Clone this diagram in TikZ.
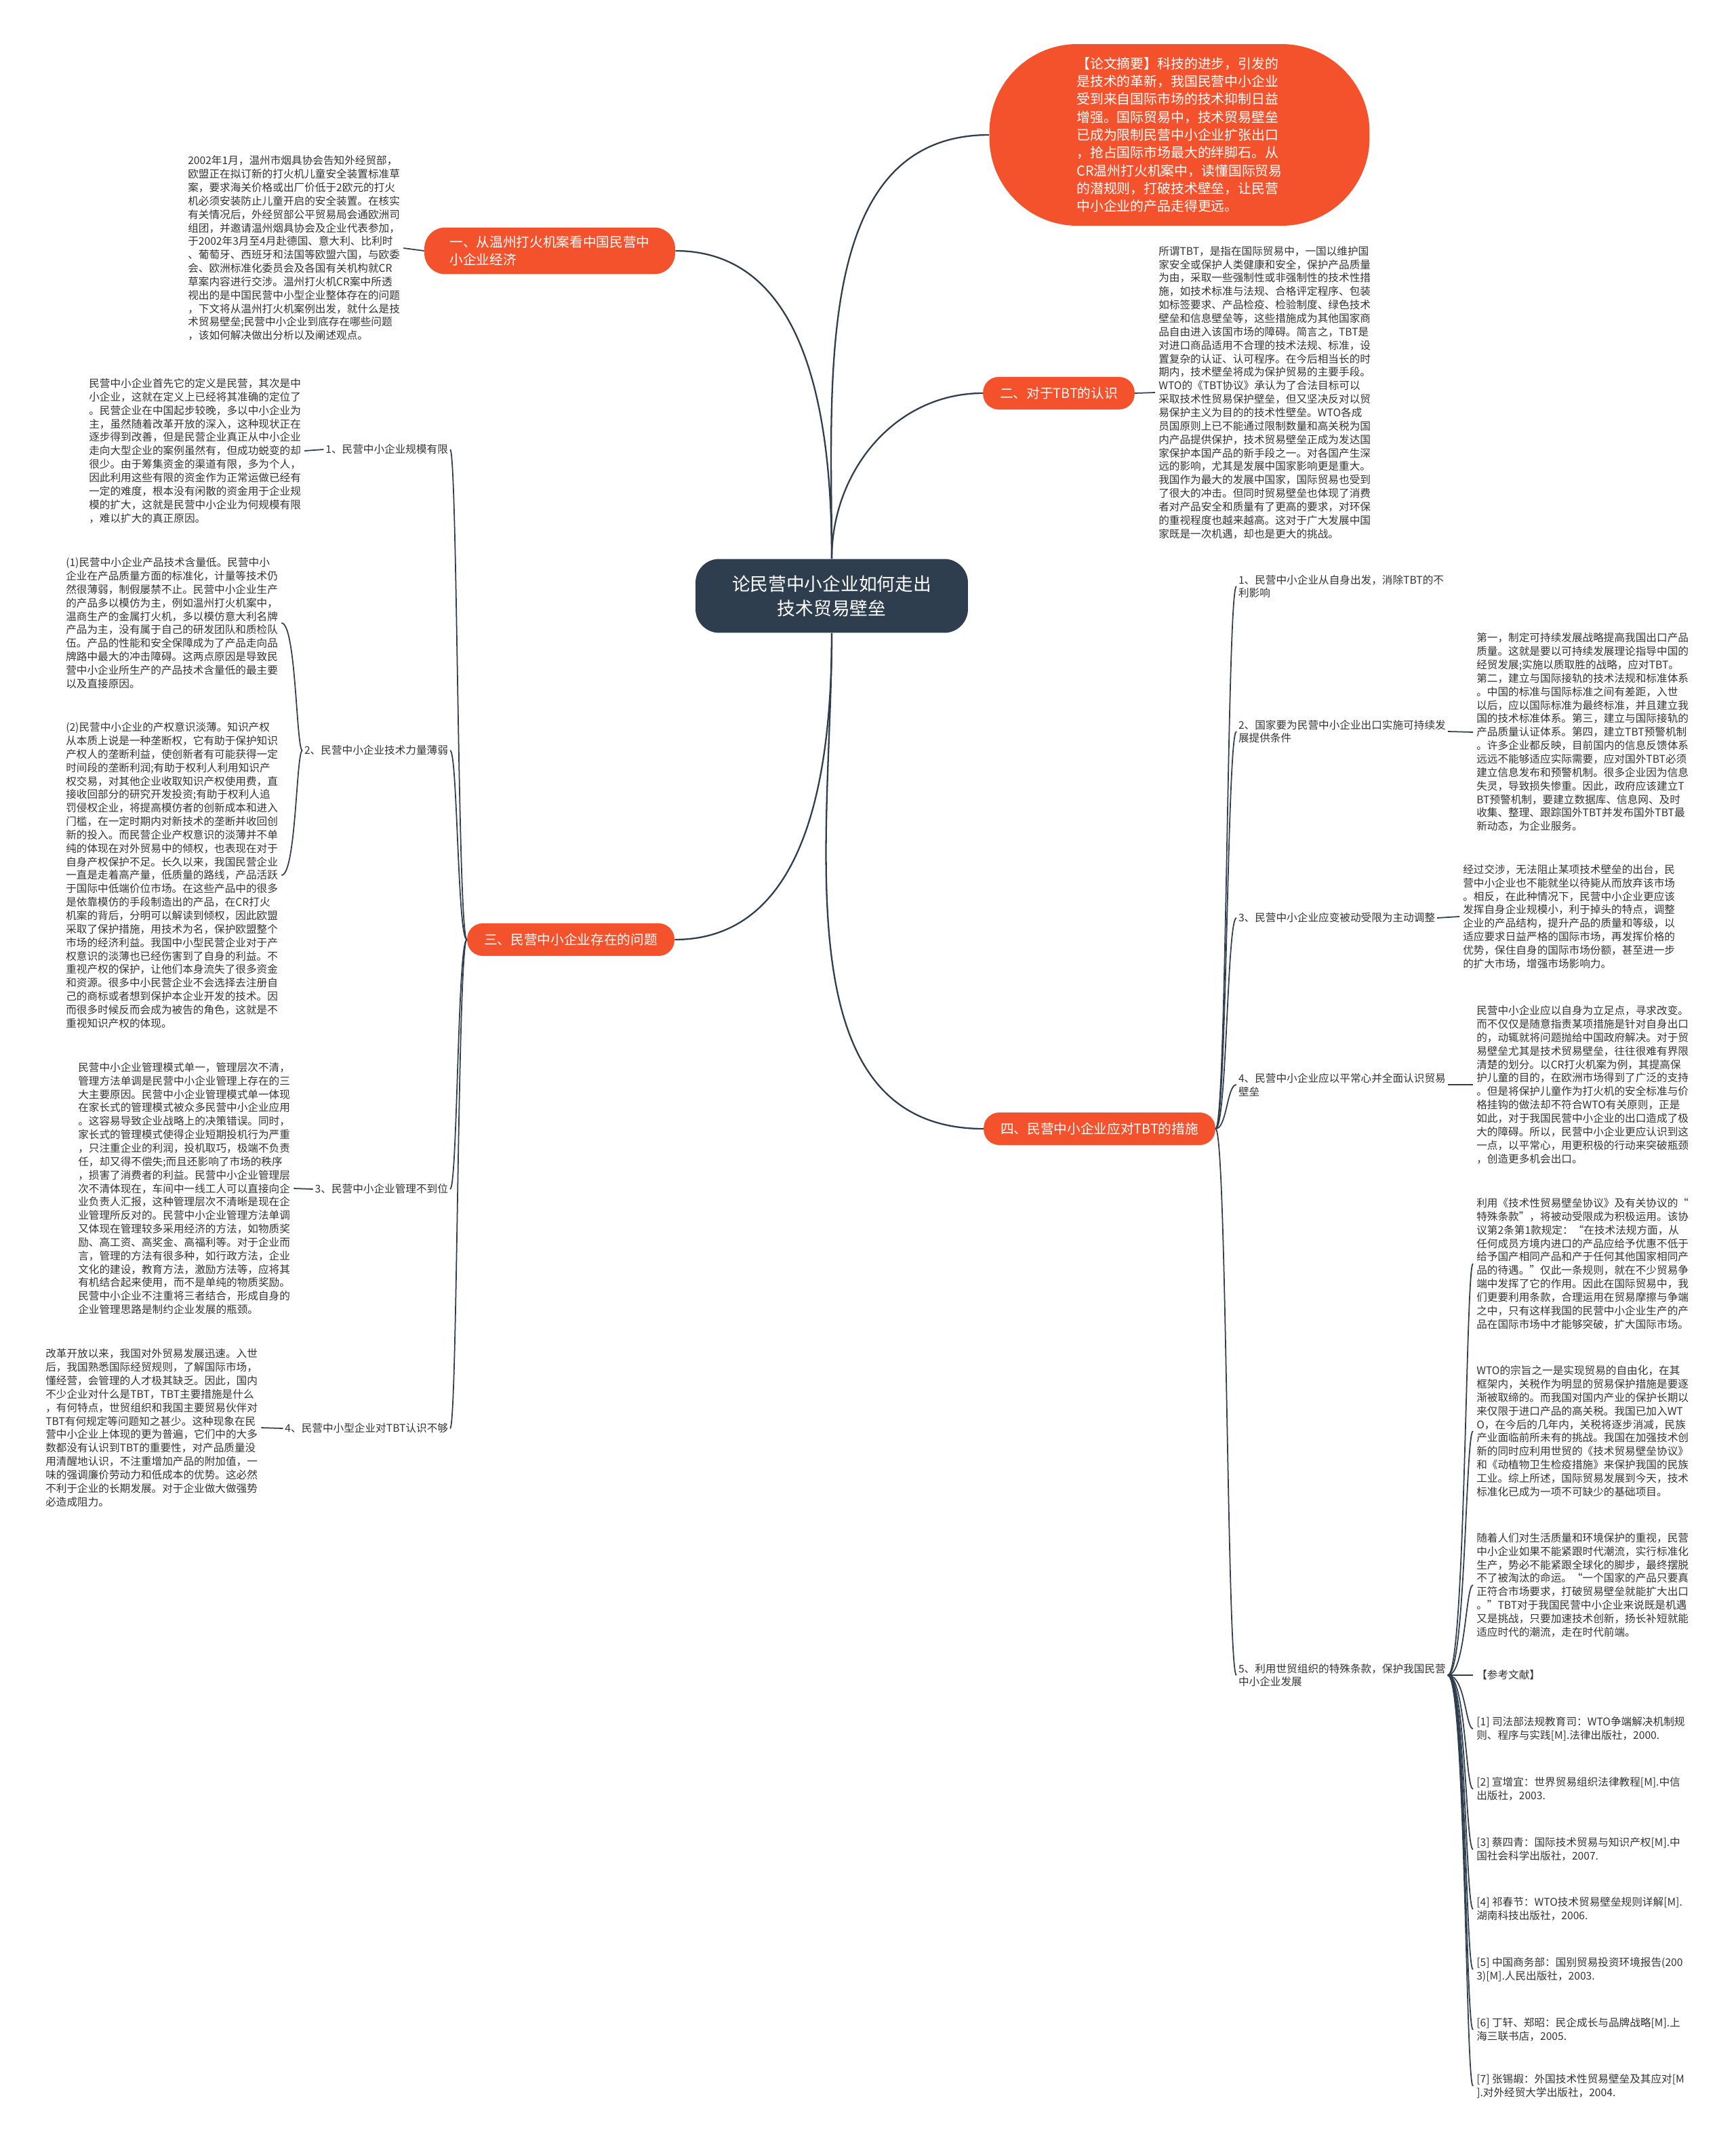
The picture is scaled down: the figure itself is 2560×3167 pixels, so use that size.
\documentclass[tikz,border=0pt]{standalone}
\usepackage{fontspec}
\usepackage{tikz}
\usetikzlibrary{positioning}
\newfontfamily\cjk{Noto Sans CJK SC}
\definecolor{brick}{HTML}{F4522D}
\definecolor{slate}{HTML}{2E3E4F}
\definecolor{ink}{HTML}{333333}

\begin{document}
\begin{tikzpicture}[x=0.02cm,y=-0.02cm,
  txt/.style={font=\cjk\fontsize{8.9}{11.3}\selectfont,text=ink,align=left,inner sep=0pt,outer sep=3pt},
  sub/.style={font=\cjk\fontsize{8.9}{11.3}\selectfont,text=ink,align=left,inner sep=1.5pt},
  branch/.style={fill=brick,text=white,font=\cjk\fontsize{11.2}{14.8}\selectfont,align=left,rounded corners=0.46cm,inner xsep=0.5cm,minimum height=0.96cm},
  link/.style={draw=slate,line width=1.3pt},
  twig/.style={draw=slate,line width=1pt}]
\useasboundingbox (0,0) rectangle (2560,3167);

\node[fill=slate,text=white,font=\cjk\fontsize{15.2}{20.7}\selectfont,align=center,rounded corners=0.7cm,minimum width=8.04cm,minimum height=2.18cm] (root) at (1227,879) {论民营中小企业如何走出\\技术贸易壁垒};

\node[fill=brick,text=white,font=\cjk\fontsize{11.3}{15}\selectfont,align=left,rounded corners=2.6cm,minimum width=11.22cm,minimum height=5.36cm] (summary) at (1740,199) {【论文摘要】科技的进步，引发的\\
是技术的革新，我国民营中小企业\\
受到来自国际市场的技术抑制日益\\
增强。国际贸易中，技术贸易壁垒\\
已成为限制民营中小企业扩张出口\\
，抢占国际市场最大的绊脚石。从\\
CR温州打火机案中，读懂国际贸易\\
的潜规则，打破技术壁垒，让民营\\
中小企业的产品走得更远。};

\node[branch,minimum width=7.4cm,minimum height=1.38cm,rounded corners=0.62cm] (intro) at (811,370) {一、从温州打火机案看中国民营中\\小企业经济};
\node[branch,minimum width=4.28cm] (tbt) at (1562,580) {二、对于TBT的认识};
\node[branch,minimum width=5.94cm] (issues) at (842,1386) {三、民营中小企业存在的问题};
\node[branch,minimum width=6.66cm] (measures) at (1622,1665) {四、民营中小企业应对TBT的措施};

\draw[link] (root.north) to[out=90,in=180] (summary.west);
\draw[link] (root.north) to[out=90,in=0] (intro.east);
\draw[link] (root.north) to[out=90,in=180] (tbt.west);
\draw[link] (root.south) to[out=270,in=0] (issues.east);
\draw[link] (root.south) to[out=270,in=180] (measures.west);

\node[txt,anchor=west] (introtxt) at (272,366) {2002年1月，温州市烟具协会告知外经贸部，\\
欧盟正在拟订新的打火机儿童安全装置标准草\\
案，要求海关价格或出厂价低于2欧元的打火\\
机必须安装防止儿童开启的安全装置。在核实\\
有关情况后，外经贸部公平贸易局会通欧洲司\\
组团，并邀请温州烟具协会及企业代表参加，\\
于2002年3月至4月赴德国、意大利、比利时\\
、葡萄牙、西班牙和法国等欧盟六国，与欧委\\
会、欧洲标准化委员会及各国有关机构就CR\\
草案内容进行交涉。温州打火机CR案中所透\\
视出的是中国民营中小型企业整体存在的问题\\
，下文将从温州打火机案例出发，就什么是技\\
术贸易壁垒;民营中小企业到底存在哪些问题\\
，该如何解决做出分析以及阐述观点。};
\draw[twig] (intro.west) -- (introtxt.east);

\node[txt,anchor=west] (tbttxt) at (1704,579) {所谓TBT，是指在国际贸易中，一国以维护国\\
家安全或保护人类健康和安全，保护产品质量\\
为由，采取一些强制性或非强制性的技术性措\\
施，如技术标准与法规、合格评定程序、包装\\
如标签要求、产品检疫、检验制度、绿色技术\\
壁垒和信息壁垒等，这些措施成为其他国家商\\
品自由进入该国市场的障碍。简言之，TBT是\\
对进口商品适用不合理的技术法规、标准，设\\
置复杂的认证、认可程序。在今后相当长的时\\
期内，技术壁垒将成为保护贸易的主要手段。\\
WTO的《TBT协议》承认为了合法目标可以\\
采取技术性贸易保护壁垒，但又坚决反对以贸\\
易保护主义为目的的技术性壁垒。WTO各成\\
员国原则上已不能通过限制数量和高关税为国\\
内产品提供保护，技术贸易壁垒正成为发达国\\
家保护本国产品的新手段之一。对各国产生深\\
远的影响，尤其是发展中国家影响更是重大。\\
我国作为最大的发展中国家，国际贸易也受到\\
了很大的冲击。但同时贸易壁垒也体现了消费\\
者对产品安全和质量有了更高的要求，对环保\\
的重视程度也越来越高。这对于广大发展中国\\
家既是一次机遇，却也是更大的挑战。};
\draw[twig] (tbt.east) -- (tbttxt.west);

\node[sub,anchor=east] (scale) at (664,663) {1、民营中小企业规模有限};
\node[sub,anchor=east] (tech) at (664,1107) {2、民营中小企业技术力量薄弱};
\node[sub,anchor=east] (manage) at (664,1754) {3、民营中小企业管理不到位};
\node[sub,anchor=east] (aware) at (664,2107) {4、民营中小型企业对TBT认识不够};
\coordinate (fork3) at (675,1386);
\foreach \n in {scale,tech,manage,aware}
  \draw[twig] (issues.west) .. controls (fork3) and (fork3 |- \n.east) .. (\n.east);

\node[txt,anchor=west] (scaletxt) at (126,665) {民营中小企业首先它的定义是民营，其次是中\\
小企业，这就在定义上已经将其准确的定位了\\
。民营企业在中国起步较晚，多以中小企业为\\
主，虽然随着改革开放的深入，这种现状正在\\
逐步得到改善，但是民营企业真正从中小企业\\
走向大型企业的案例虽然有，但成功蜕变的却\\
很少。由于筹集资金的渠道有限，多为个人，\\
因此利用这些有限的资金作为正常运做已经有\\
一定的难度，根本没有闲散的资金用于企业规\\
模的扩大，这就是民营中小企业为何规模有限\\
，难以扩大的真正原因。};
\draw[twig] (scale.west) -- (scaletxt.east);

\node[txt,anchor=west] (techA) at (92,919) {(1)民营中小企业产品技术含量低。民营中小\\
企业在产品质量方面的标准化，计量等技术仍\\
然很薄弱，制假屡禁不止。民营中小企业生产\\
的产品多以模仿为主，例如温州打火机案中，\\
温商生产的金属打火机，多以模仿意大利名牌\\
产品为主，没有属于自己的研发团队和质检队\\
伍。产品的性能和安全保障成为了产品走向品\\
牌路中最大的冲击障碍。这两点原因是导致民\\
营中小企业所生产的产品技术含量低的最主要\\
以及直接原因。};
\node[txt,anchor=west] (techB) at (92,1291) {(2)民营中小企业的产权意识淡薄。知识产权\\
从本质上说是一种垄断权，它有助于保护知识\\
产权人的垄断利益，使创新者有可能获得一定\\
时间段的垄断利润;有助于权利人利用知识产\\
权交易，对其他企业收取知识产权使用费，直\\
接收回部分的研究开发投资;有助于权利人追\\
罚侵权企业，将提高模仿者的创新成本和进入\\
门槛，在一定时期内对新技术的垄断并收回创\\
新的投入。而民营企业产权意识的淡薄并不单\\
纯的体现在对外贸易中的倾权，也表现在对于\\
自身产权保护不足。长久以来，我国民营企业\\
一直是走着高产量，低质量的路线，产品活跃\\
于国际中低端价位市场。在这些产品中的很多\\
是依靠模仿的手段制造出的产品，在CR打火\\
机案的背后，分明可以解读到倾权，因此欧盟\\
采取了保护措施，用技术为名，保护欧盟整个\\
市场的经济利益。我国中小型民营企业对于产\\
权意识的淡薄也已经伤害到了自身的利益。不\\
重视产权的保护，让他们本身流失了很多资金\\
和资源。很多中小民营企业不会选择去注册自\\
己的商标或者想到保护本企业开发的技术。因\\
而很多时候反而会成为被告的角色，这就是不\\
重视知识产权的体现。};
\coordinate (fork2) at (437,1107);
\foreach \n in {techA,techB}
  \draw[twig] (tech.west) .. controls (fork2) and (fork2 |- \n.east) .. (\n.east);

\node[txt,anchor=west] (managetxt) at (110,1753) {民营中小企业管理模式单一，管理层次不清，\\
管理方法单调是民营中小企业管理上存在的三\\
大主要原因。民营中小企业管理模式单一体现\\
在家长式的管理模式被众多民营中小企业应用\\
。这容易导致企业战略上的决策错误。同时，\\
家长式的管理模式使得企业短期投机行为严重\\
，只注重企业的利润，投机取巧，极端不负责\\
任，却又得不偿失;而且还影响了市场的秩序\\
，损害了消费者的利益。民营中小企业管理层\\
次不清体现在，车间中一线工人可以直接向企\\
业负责人汇报，这种管理层次不清晰是现在企\\
业管理所反对的。民营中小企业管理方法单调\\
又体现在管理较多采用经济的方法，如物质奖\\
励、高工资、高奖金、高福利等。对于企业而\\
言，管理的方法有很多种，如行政方法，企业\\
文化的建设，教育方法，激励方法等，应将其\\
有机结合起来使用，而不是单纯的物质奖励。\\
民营中小企业不注重将三者结合，形成自身的\\
企业管理思路是制约企业发展的瓶颈。};
\draw[twig] (manage.west) -- (managetxt.east);

\node[txt,anchor=west] (awaretxt) at (62,2106) {改革开放以来，我国对外贸易发展迅速。入世\\
后，我国熟悉国际经贸规则，了解国际市场，\\
懂经营，会管理的人才极其缺乏。因此，国内\\
不少企业对什么是TBT，TBT主要措施是什么\\
，有何特点，世贸组织和我国主要贸易伙伴对\\
TBT有何规定等问题知之甚少。这种现象在民\\
营中小企业上体现的更为普遍，它们中的大多\\
数都没有认识到TBT的重要性，对产品质量没\\
用清醒地认识，不注重增加产品的附加值，一\\
味的强调廉价劳动力和低成本的优势。这必然\\
不利于企业的长期发展。对于企业做大做强势\\
必造成阻力。};
\draw[twig] (aware.west) -- (awaretxt.east);

\node[sub,anchor=west] (self) at (1824,865) {1、民营中小企业从自身出发，消除TBT的不\\利影响};
\node[sub,anchor=west] (state) at (1824,1079) {2、国家要为民营中小企业出口实施可持续发\\展提供条件};
\node[sub,anchor=west] (adjust) at (1824,1354) {3、民营中小企业应变被动受限为主动调整};
\node[sub,anchor=west] (calm) at (1824,1600) {4、民营中小企业应以平常心并全面认识贸易\\壁垒};
\node[sub,anchor=west] (clause) at (1824,2471) {5、利用世贸组织的特殊条款，保护我国民营\\中小企业发展};
\coordinate (fork4) at (1810,1665);
\foreach \n in {self,state,adjust,calm,clause}
  \draw[twig] (measures.east) .. controls (fork4) and (fork4 |- \n.west) .. (\n.west);

\node[txt,anchor=west] (statetxt) at (2173,1080) {第一，制定可持续发展战略提高我国出口产品\\
质量。这就是要以可持续发展理论指导中国的\\
经贸发展;实施以质取胜的战略，应对TBT。\\
第二，建立与国际接轨的技术法规和标准体系\\
。中国的标准与国际标准之间有差距，入世\\
以后，应以国际标准为最终标准，并且建立我\\
国的技术标准体系。第三，建立与国际接轨的\\
产品质量认证体系。第四，建立TBT预警机制\\
。许多企业都反映，目前国内的信息反馈体系\\
远远不能够适应实际需要，应对国外TBT必须\\
建立信息发布和预警机制。很多企业因为信息\\
失灵，导致损失惨重。因此，政府应该建立T\\
BT预警机制，要建立数据库、信息网、及时\\
收集、整理、跟踪国外TBT并发布国外TBT最\\
新动态，为企业服务。};
\draw[twig] (state.east) -- (statetxt.west);

\node[txt,anchor=west] (adjusttxt) at (2153,1352) {经过交涉，无法阻止某项技术壁垒的出台，民\\
营中小企业也不能就坐以待毙从而放弃该市场\\
。相反，在此种情况下，民营中小企业更应该\\
发挥自身企业规模小，利于掉头的特点，调整\\
企业的产品结构，提升产品的质量和等级，以\\
适应要求日益严格的国际市场，再发挥价格的\\
优势，保住自身的国际市场份额，甚至进一步\\
的扩大市场，增强市场影响力。};
\draw[twig] (adjust.east) -- (adjusttxt.west);

\node[txt,anchor=west] (calmtxt) at (2173,1600) {民营中小企业应以自身为立足点，寻求改变。\\
而不仅仅是随意指责某项措施是针对自身出口\\
的，动辄就将问题抛给中国政府解决。对于贸\\
易壁垒尤其是技术贸易壁垒，往往很难有界限\\
清楚的划分。以CR打火机案为例，其提高保\\
护儿童的目的，在欧洲市场得到了广泛的支持\\
。但是将保护儿童作为打火机的安全标准与价\\
格挂钩的做法却不符合WTO有关原则，正是\\
如此，对于我国民营中小企业的出口造成了极\\
大的障碍。所以，民营中小企业更应认识到这\\
一点，以平常心，用更积极的行动来突破瓶颈\\
，创造更多机会出口。};
\draw[twig] (calm.east) -- (calmtxt.west);

\node[txt,anchor=west] (use) at (2173,1864) {利用《技术性贸易壁垒协议》及有关协议的“\\
特殊条款”，将被动受限成为积极运用。该协\\
议第2条第1款规定：“在技术法规方面，从\\
任何成员方境内进口的产品应给予优惠不低于\\
给予国产相同产品和产于任何其他国家相同产\\
品的待遇。”仅此一条规则，就在不少贸易争\\
端中发挥了它的作用。因此在国际贸易中，我\\
们更要利用条款，合理运用在贸易摩擦与争端\\
之中，只有这样我国的民营中小企业生产的产\\
品在国际市场中才能够突破，扩大国际市场。};
\node[txt,anchor=west] (wto) at (2173,2111) {WTO的宗旨之一是实现贸易的自由化，在其\\
框架内，关税作为明显的贸易保护措施是要逐\\
渐被取缔的。而我国对国内产业的保护长期以\\
来仅限于进口产品的高关税。我国已加入WT\\
O，在今后的几年内，关税将逐步消减，民族\\
产业面临前所未有的挑战。我国在加强技术创\\
新的同时应利用世贸的《技术贸易壁垒协议》\\
和《动植物卫生检疫措施》来保护我国的民族\\
工业。综上所述，国际贸易发展到今天，技术\\
标准化已成为一项不可缺少的基础项目。};
\node[txt,anchor=west] (trend) at (2173,2338) {随着人们对生活质量和环境保护的重视，民营\\
中小企业如果不能紧跟时代潮流，实行标准化\\
生产，势必不能紧跟全球化的脚步，最终摆脱\\
不了被淘汰的命运。“一个国家的产品只要真\\
正符合市场要求，打破贸易壁垒就能扩大出口\\
。”TBT对于我国民营中小企业来说既是机遇\\
又是挑战，只要加速技术创新，扬长补短就能\\
适应时代的潮流，走在时代前端。};
\node[txt,anchor=west] (refs) at (2173,2471) {【参考文献】};
\node[txt,anchor=west] (ref1) at (2173,2550) {[1] 司法部法规教育司：WTO争端解决机制规\\则、程序与实践[M].法律出版社，2000.};
\node[txt,anchor=west] (ref2) at (2173,2639) {[2] 宣增宜：世界贸易组织法律教程[M].中信\\出版社，2003.};
\node[txt,anchor=west] (ref3) at (2173,2728) {[3] 蔡四青：国际技术贸易与知识产权[M].中\\国社会科学出版社，2007.};
\node[txt,anchor=west] (ref4) at (2173,2816) {[4] 祁春节：WTO技术贸易壁垒规则详解[M].\\湖南科技出版社，2006.};
\node[txt,anchor=west] (ref5) at (2173,2905) {[5] 中国商务部：国别贸易投资环境报告(200\\3)[M].人民出版社，2003.};
\node[txt,anchor=west] (ref6) at (2173,2994) {[6] 丁轩、郑昭：民企成长与品牌战略[M].上\\海三联书店，2005.};
\node[txt,anchor=west] (ref7) at (2173,3077) {[7] 张锡嘏：外国技术性贸易壁垒及其应对[M\\].对外经贸大学出版社，2004.};
\coordinate (fork5) at (2162,2471);
\foreach \n in {use,wto,trend,refs,ref1,ref2,ref3,ref4,ref5,ref6,ref7}
  \draw[twig] (clause.east) .. controls (fork5) and (fork5 |- \n.west) .. (\n.west);
\end{tikzpicture}
\end{document}
